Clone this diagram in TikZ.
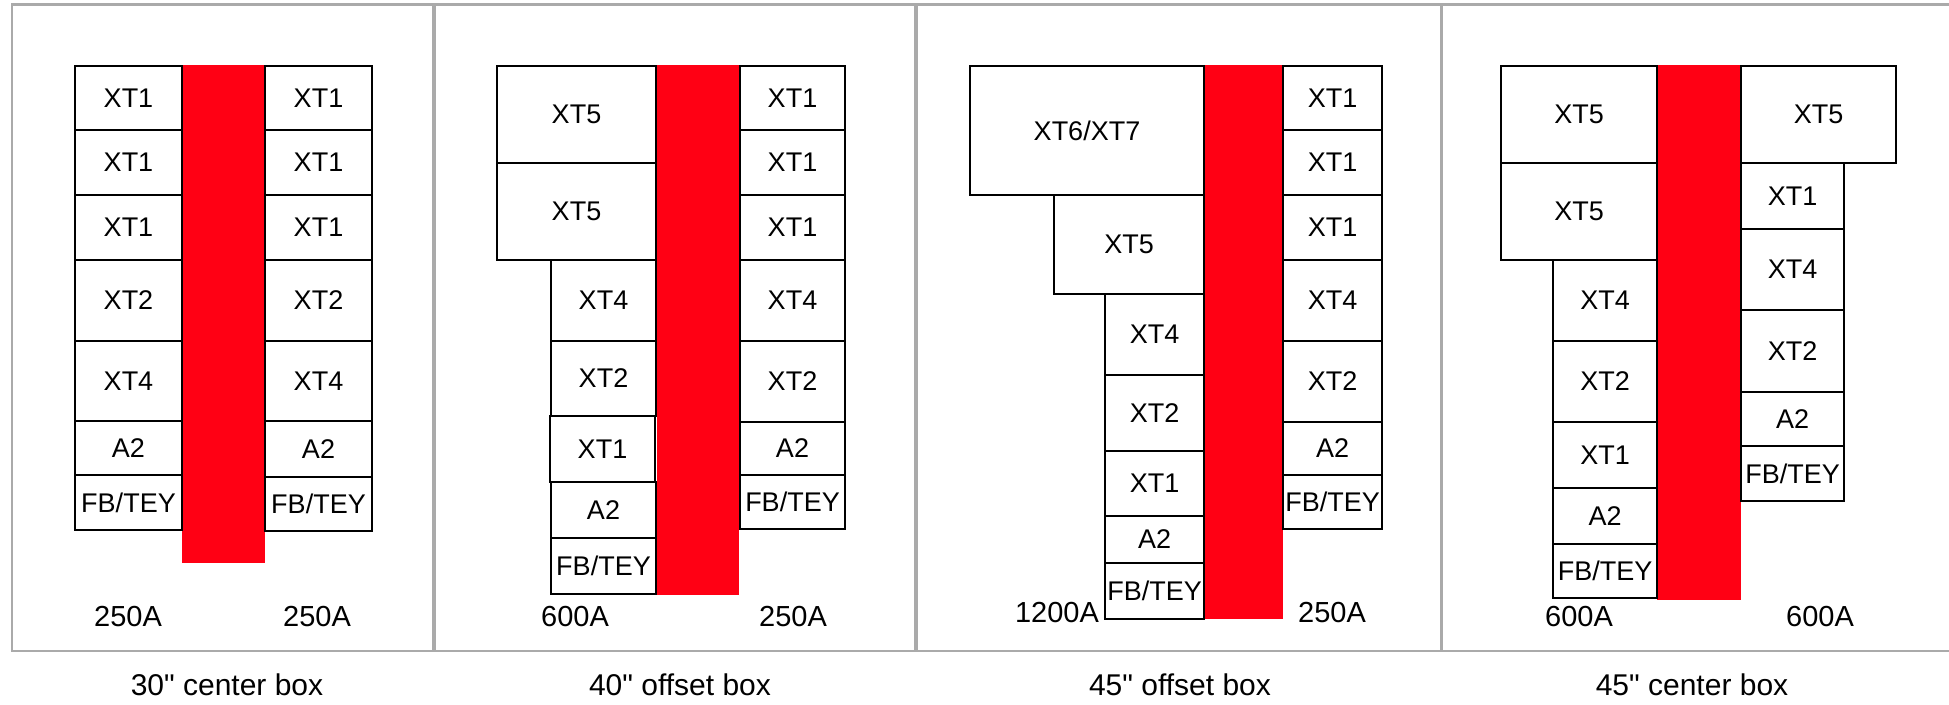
\documentclass[tikz,border=0pt]{standalone}
\usepackage{fontspec}
\setmainfont{Liberation Sans}[Ligatures=TeXOff]
\usetikzlibrary{fit}
\definecolor{barred}{RGB}{255,0,20}
\definecolor{framegray}{RGB}{170,170,170}
\tikzset{
  cellbox/.style={draw=black, line width=1.3pt, inner sep=0pt},
  celltext/.style={inner sep=0pt, font=\fontsize{13.5}{15}\selectfont},
  busbar/.style={fill=barred, draw=none, inner sep=0pt},
  amp/.style={font=\fontsize{14.5}{16}\selectfont, inner sep=0pt},
  caption/.style={font=\fontsize{15}{17}\selectfont, inner sep=0pt},
  frameline/.style={draw=framegray, line width=1.2pt},
  divider/.style={draw=framegray, line width=2pt},
}
\newcommand{\cell}[6]{\node[cellbox, fit={(#2,#3) (#4,#5)}] (#1) {};
  \node[celltext] (#1t) at (#1.center) {#6};}
\newcommand{\redbus}[5]{\node[busbar, fit={(#2,#3) (#4,#5)}] (#1) {};}
\begin{document}
\begin{tikzpicture}[x=0.5pt, y=-0.5pt]
\useasboundingbox (0,0) rectangle (1949,705);
% frames
\draw[frameline] (1949,4.5) -- (12,4.5) -- (12,651) -- (1949,651);
\draw[divider] (434,4.5) -- (434,651);
\draw[divider] (915.5,4.5) -- (915.5,651);
\draw[frameline] (1441.5,4.5) -- (1441.5,651);

% ===== Panel 1 =====
\redbus{pa}{182}{65}{265}{563}
\cell{pal1}{75}{66}{182}{130}{XT1}
\cell{pal2}{75}{130}{182}{195}{XT1}
\cell{pal3}{75}{195}{182}{260}{XT1}
\cell{pal4}{75}{260}{182}{341}{XT2}
\cell{pal5}{75}{341}{182}{421}{XT4}
\cell{pal6}{75}{421}{182}{475}{A2}
\cell{pal7}{75}{475}{182}{530}{FB/TEY}
\cell{par1}{265}{66}{372}{130}{XT1}
\cell{par2}{265}{130}{372}{195}{XT1}
\cell{par3}{265}{195}{372}{260}{XT1}
\cell{par4}{265}{260}{372}{341}{XT2}
\cell{par5}{265}{341}{372}{421}{XT4}
\cell{par6}{265}{421}{372}{477}{A2}
\cell{par7}{265}{477}{372}{531}{FB/TEY}
\node[amp] (paal) at (128,617) {250A};
\node[amp] (paar) at (317,617) {250A};
\node[caption] (pacap) at (227,685) {30" center box};

% ===== Panel 2 =====
\redbus{pb}{657}{65}{739}{595}
\cell{pbl1}{497}{66}{656}{163}{XT5}
\cell{pbl2}{497}{163}{656}{260}{XT5}
\cell{pbl3}{551}{260}{656}{341}{XT4}
\cell{pbl4}{551}{341}{656}{416}{XT2}
\cell{pbl5}{550}{416}{655}{482}{XT1}
\cell{pbl6}{551}{482}{656}{538}{A2}
\cell{pbl7}{551}{538}{656}{594}{FB/TEY}
\cell{pbr1}{740}{66}{845}{130}{XT1}
\cell{pbr2}{740}{130}{845}{195}{XT1}
\cell{pbr3}{740}{195}{845}{260}{XT1}
\cell{pbr4}{740}{260}{845}{341}{XT4}
\cell{pbr5}{740}{341}{845}{422}{XT2}
\cell{pbr6}{740}{422}{845}{475}{A2}
\cell{pbr7}{740}{475}{845}{529}{FB/TEY}
\node[amp] (pbal) at (575,617) {600A};
\node[amp] (pbar) at (793,617) {250A};
\node[caption] (pbcap) at (680,685) {40" offset box};

% ===== Panel 3 =====
\redbus{pc}{1204}{65}{1283}{619}
\cell{pcl1}{970}{66}{1204}{195}{XT6/XT7}
\cell{pcl2}{1054}{195}{1204}{294}{XT5}
\cell{pcl3}{1105}{294}{1204}{375}{XT4}
\cell{pcl4}{1105}{375}{1204}{451}{XT2}
\cell{pcl5}{1105}{451}{1204}{516}{XT1}
\cell{pcl6}{1105}{516}{1204}{563}{A2}
\cell{pcl7}{1105}{563}{1204}{619}{FB/TEY}
\cell{pcr1}{1283}{66}{1382}{130}{XT1}
\cell{pcr2}{1283}{130}{1382}{195}{XT1}
\cell{pcr3}{1283}{195}{1382}{260}{XT1}
\cell{pcr4}{1283}{260}{1382}{341}{XT4}
\cell{pcr5}{1283}{341}{1382}{422}{XT2}
\cell{pcr6}{1283}{422}{1382}{475}{A2}
\cell{pcr7}{1283}{475}{1382}{529}{FB/TEY}
\node[amp] (pcal) at (1057,613) {1200A};
\node[amp] (pcar) at (1332,613) {250A};
\node[caption] (pccap) at (1180,685) {45" offset box};

% ===== Panel 4 =====
\redbus{pd}{1657}{65}{1741}{600}
\cell{pdl1}{1501}{66}{1657}{163}{XT5}
\cell{pdl2}{1501}{163}{1657}{260}{XT5}
\cell{pdl3}{1553}{260}{1657}{341}{XT4}
\cell{pdl4}{1553}{341}{1657}{422}{XT2}
\cell{pdl5}{1553}{422}{1657}{488}{XT1}
\cell{pdl6}{1553}{488}{1657}{544}{A2}
\cell{pdl7}{1553}{544}{1657}{598}{FB/TEY}
\cell{pdr1}{1741}{66}{1896}{163}{XT5}
\cell{pdr2}{1741}{163}{1844}{229}{XT1}
\cell{pdr3}{1741}{229}{1844}{310}{XT4}
\cell{pdr4}{1741}{310}{1844}{392}{XT2}
\cell{pdr5}{1741}{392}{1844}{446}{A2}
\cell{pdr6}{1741}{446}{1844}{501}{FB/TEY}
\node[amp] (pdal) at (1579,617) {600A};
\node[amp] (pdar) at (1820,617) {600A};
\node[caption] (pdcap) at (1692,685) {45" center box};
\end{tikzpicture}
\end{document}
